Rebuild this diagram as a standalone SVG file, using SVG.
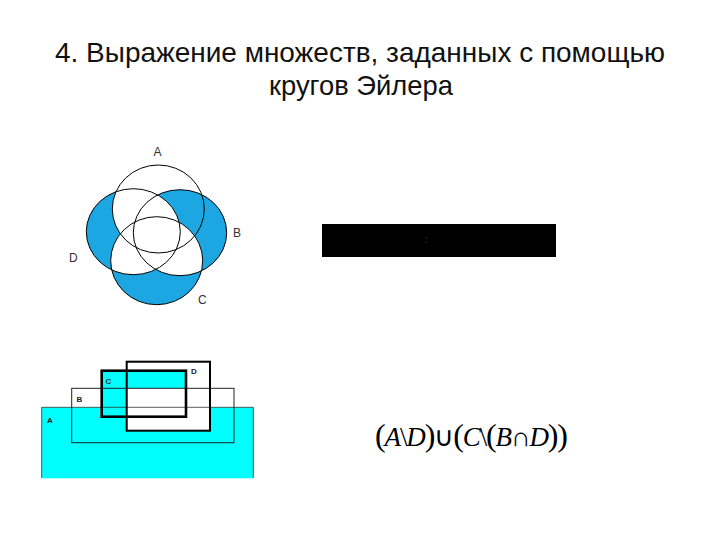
<svg xmlns="http://www.w3.org/2000/svg" width="720" height="540" viewBox="0 0 720 540">
<style>
.title{font-family:"Liberation Sans",Arial,sans-serif;font-size:28px;fill:#111}
.lbl{font-family:"Liberation Sans",Arial,sans-serif;font-size:12px;fill:#333}
.slbl{font-family:"Liberation Sans",Arial,sans-serif;font-size:8px;font-weight:bold;fill:#222}
.ring{fill:none;stroke:#000;stroke-width:1}
.blue{fill:#1CA6E2}
.cyan{fill:#00FFFF}
.formula{font-family:"Liberation Serif","Times New Roman",serif;font-size:27px;fill:#000}
.par{font-size:32px}
</style>
<defs>
<ellipse id="eA" cx="158.3" cy="209" rx="46" ry="44"/>
<ellipse id="eB" cx="180" cy="232.7" rx="46.7" ry="43"/>
<ellipse id="eC" cx="156.7" cy="260.7" rx="46" ry="44"/>
<ellipse id="eD" cx="133.3" cy="231.7" rx="47" ry="43"/>
<mask id="mB"><rect x="0" y="0" width="720" height="540" fill="#fff"/><use href="#eC" fill="#000"/><use href="#eD" fill="#000"/></mask>
<mask id="mC"><rect x="0" y="0" width="720" height="540" fill="#fff"/><use href="#eB" fill="#000"/><use href="#eD" fill="#000"/></mask>
<mask id="mD"><rect x="0" y="0" width="720" height="540" fill="#fff"/><use href="#eA" fill="#000"/><use href="#eC" fill="#000"/></mask>
</defs>
<rect x="0" y="0" width="720" height="540" fill="#fff"/>
<g id="title">
<text class="title" x="360" y="62" text-anchor="middle" textLength="610" lengthAdjust="spacingAndGlyphs">4. Выражение множеств, заданных с помощью</text>
<text class="title" x="361" y="95" text-anchor="middle" textLength="184" lengthAdjust="spacingAndGlyphs">кругов Эйлера</text>
</g>
<g id="venn">
<use href="#eB" class="blue" mask="url(#mB)"/>
<use href="#eC" class="blue" mask="url(#mC)"/>
<use href="#eD" class="blue" mask="url(#mD)"/>
<use href="#eA" class="ring"/>
<use href="#eB" class="ring"/>
<use href="#eC" class="ring"/>
<use href="#eD" class="ring"/>
<text class="lbl" x="157.5" y="156" text-anchor="middle">A</text>
<text class="lbl" x="233" y="237">B</text>
<text class="lbl" x="69" y="262">D</text>
<text class="lbl" x="198" y="304">C</text>
</g>
<g id="answer-box">
<rect x="322" y="224" width="234" height="33" fill="#000"/>
<text x="425" y="243" font-family="Liberation Sans,sans-serif" font-size="10" fill="#444">:</text>
</g>
<g id="rects">
<rect x="41.7" y="407.3" width="211.6" height="71" class="cyan"/>
<rect x="101.7" y="370.7" width="84.3" height="46" class="cyan"/>
<rect x="126.7" y="388.3" width="83.3" height="42.4" fill="#fff"/>
<polyline points="41.7,478 41.7,407.3 253.3,407.3 253.3,478" fill="none" stroke="#333" stroke-width="0.8"/>
<rect x="71.7" y="388.3" width="162.3" height="54.4" fill="none" stroke="#222" stroke-width="1"/>
<rect x="126.7" y="361.7" width="83.3" height="69" fill="none" stroke="#000" stroke-width="2"/>
<rect x="101.7" y="370.7" width="84.3" height="46" fill="none" stroke="#000" stroke-width="2.6"/>
<text class="slbl" x="47" y="423">A</text>
<text class="slbl" x="76.5" y="402">B</text>
<text class="slbl" x="105.5" y="383.5">C</text>
<text class="slbl" x="191" y="373.5">D</text>
</g>
<g id="formula">
<text class="formula" x="375" y="446" textLength="193" lengthAdjust="spacing"><tspan class="par">(</tspan><tspan font-style="italic">A</tspan>\<tspan font-style="italic">D</tspan><tspan class="par">)</tspan>∪<tspan class="par">(</tspan><tspan font-style="italic">C</tspan>\<tspan class="par">(</tspan><tspan font-style="italic">B</tspan>∩<tspan font-style="italic">D</tspan><tspan class="par">))</tspan></text>
</g>
</svg>
